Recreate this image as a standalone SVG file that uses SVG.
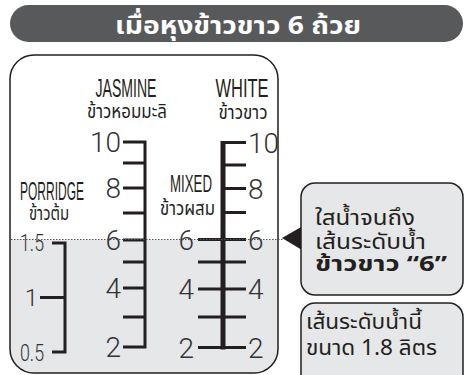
<svg xmlns="http://www.w3.org/2000/svg" width="466" height="375" viewBox="0 0 466 375">
<style>
.th{font-family:"Noto Sans Thai","Noto Sans","DejaVu Sans",sans-serif;fill:#231f20}
.lbl{font-size:19px}
.cb{font-size:21px}
.cap{font-family:"Liberation Sans",Arial,sans-serif;font-size:26px;fill:#231f20}
.num{font-family:Roboto,"Liberation Sans",sans-serif;font-weight:300;font-size:28px;fill:#333}
.tick{stroke:#231f20;stroke-width:3;fill:none}
.box{fill:#e6e7e8;stroke:#231f20;stroke-width:1.5}
</style>
<defs>
<clipPath id="panelClip"><rect x="10" y="55" width="268" height="318" rx="24"/></clipPath>
</defs>
<g id="header">
<rect x="10" y="5" width="453" height="37" rx="18.5" fill="#58595b"/>
<text x="238" y="33.5" text-anchor="middle" class="th" style="fill:#fff;font-weight:bold;font-size:25px" textLength="246" lengthAdjust="spacingAndGlyphs">เมื่อหุงข้าวขาว 6 ถ้วย</text>
</g>
<g id="panel">
<rect x="10" y="55" width="268" height="318" rx="24" fill="#fff"/>
<rect x="10" y="239.5" width="268" height="140" fill="#e6e7e8" clip-path="url(#panelClip)"/>
<rect x="10" y="55" width="268" height="318" rx="24" fill="none" stroke="#231f20" stroke-width="1.5"/>
</g>
<g id="porridge">
<text x="52" y="200" text-anchor="middle" class="cap" style="font-size:25px" textLength="64" lengthAdjust="spacingAndGlyphs">PORRIDGE</text>
<text x="49" y="220" text-anchor="middle" class="th lbl" textLength="40" lengthAdjust="spacingAndGlyphs">ข้าวต้ม</text>
<path class="tick" stroke-width="2.5" d="M52 243H65V352H52M40 297.5H65"/>
<text x="44" y="251" text-anchor="end" class="num" style="font-size:24px" textLength="24" lengthAdjust="spacingAndGlyphs">1.5</text>
<text x="38" y="306" text-anchor="end" class="num" style="font-size:24px">1</text>
<text x="44" y="361" text-anchor="end" class="num" style="font-size:24px" textLength="24" lengthAdjust="spacingAndGlyphs">0.5</text>
</g>
<g id="jasmine">
<text x="126" y="97" text-anchor="middle" class="cap" textLength="61" lengthAdjust="spacingAndGlyphs">JASMINE</text>
<text x="127" y="118" text-anchor="middle" class="th lbl" textLength="80" lengthAdjust="spacingAndGlyphs">ข้าวหอมมะลิ</text>
<path class="tick" d="M123 142H145V347H123M123 163H145M123 188H145M123 213H145M123 240H145M123 262H145M123 288H145M123 317H145"/>
<text x="121" y="152" text-anchor="end" class="num">10</text>
<text x="121" y="198" text-anchor="end" class="num">8</text>
<text x="121" y="250" text-anchor="end" class="num">6</text>
<text x="121" y="298" text-anchor="end" class="num">4</text>
<text x="121" y="357" text-anchor="end" class="num">2</text>
</g>
<g id="mixed">
<text x="212" y="192" text-anchor="end" class="cap" style="font-size:24px" textLength="42" lengthAdjust="spacingAndGlyphs">MIXED</text>
<text x="215" y="215" text-anchor="end" class="th lbl" textLength="55" lengthAdjust="spacingAndGlyphs">ข้าวผสม</text>
<path stroke="#231f20" stroke-width="5" d="M223 141V349.5"/>
<path class="tick" d="M223 142.5H246M223 165H246M223 188.5H246M223 212.5H246M198 239.5H246M198 262H246M198 289H246M198 317H246M198 347.5H246"/>
<text x="194" y="250" text-anchor="end" class="num">6</text>
<text x="194" y="299" text-anchor="end" class="num">4</text>
<text x="194" y="358" text-anchor="end" class="num">2</text>
</g>
<g id="white">
<text x="242" y="97" text-anchor="middle" class="cap" textLength="53" lengthAdjust="spacingAndGlyphs">WHITE</text>
<text x="243" y="119" text-anchor="middle" class="th lbl" textLength="49" lengthAdjust="spacingAndGlyphs">ข้าวขาว</text>
<text x="248" y="153" class="num">10</text>
<text x="248" y="199" class="num">8</text>
<text x="248" y="250" class="num">6</text>
<text x="248" y="299" class="num">4</text>
<text x="248" y="358" class="num">2</text>
</g>
<g id="connectors">
<line x1="11" y1="239.5" x2="283" y2="239.5" stroke="#555" stroke-width="1" stroke-dasharray="1.5 1.5"/>
<polygon points="282,238 302,226.5 302,250" fill="#231f20"/>
</g>
<g id="callout-water">
<rect class="box" x="301" y="183" width="162" height="112" rx="14"/>
<text x="315" y="225" class="th cb" textLength="100" lengthAdjust="spacingAndGlyphs">ใสน้ำจนถึง</text>
<text x="315" y="249" class="th cb" textLength="111" lengthAdjust="spacingAndGlyphs">เส้นระดับน้ำ</text>
<text x="315" y="271" class="th cb" style="font-weight:bold" textLength="132" lengthAdjust="spacingAndGlyphs">ข้าวขาว “6”</text>
</g>
<g id="callout-level">
<rect class="box" x="301" y="303" width="162" height="90" rx="14"/>
<text x="306" y="329" class="th cb" textLength="116" lengthAdjust="spacingAndGlyphs">เส้นระดับน้ำนี้</text>
<text x="306" y="355" class="th cb" textLength="131" lengthAdjust="spacingAndGlyphs">ขนาด 1.8 ลิตร</text>
</g>
</svg>
